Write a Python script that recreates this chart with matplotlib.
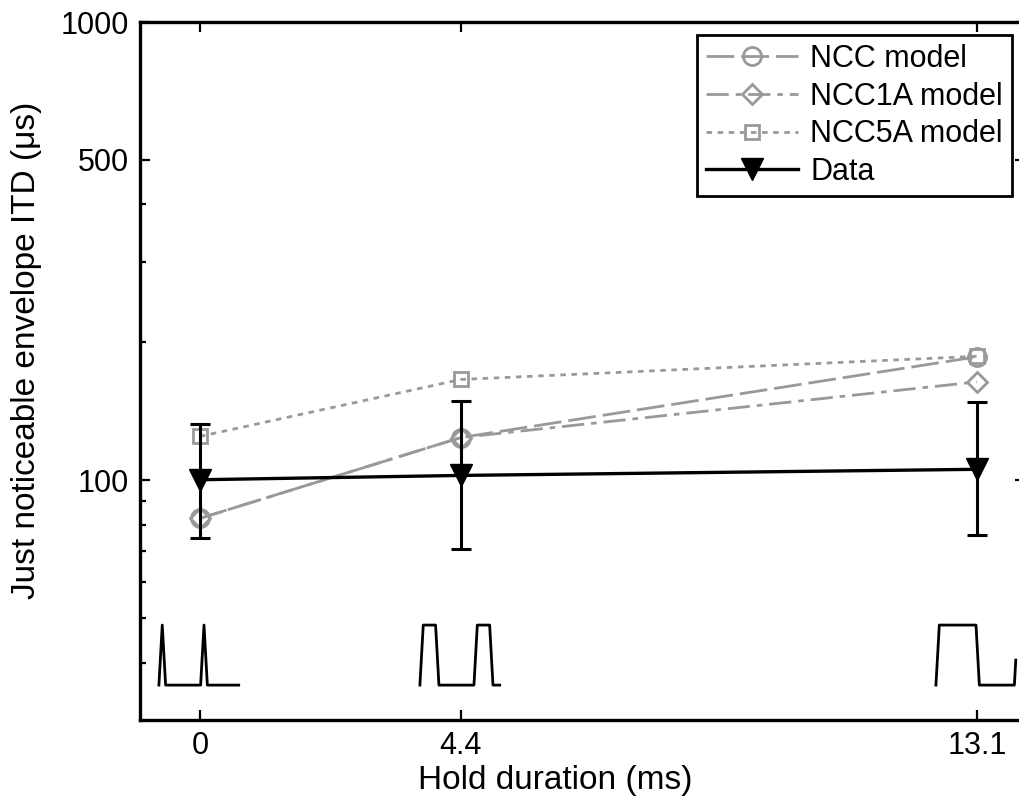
import numpy as np
import matplotlib

matplotlib.use("Agg")
import matplotlib.pyplot as plt
import matplotlib.transforms as mtransforms

# hold durations (ms)
hold = [0.0, 4.4, 13.1]

# model predictions (us)
ncc = [82.6, 124.0, 186.0]
ncc1a = [82.6, 124.0, 164.0]
ncc5a = [124.7, 166.0, 186.5]

# measured data (us) with error bar limits
data = [100.3, 102.5, 105.7]
data_hi = [132.4, 148.6, 148.0]
data_lo = [75.0, 71.0, 76.0]

# stimulus schematic parameters (ms of stimulus time)
ramp_ms = 1.2
gap_ms = 12.5
window_ms = 28.5

GREY = "#999999"
plt.rcParams["font.family"] = ["Liberation Sans", "DejaVu Sans"]
plt.rcParams["font.size"] = 22

fig = plt.figure(figsize=(10.19, 8), dpi=100)
ax = fig.add_axes([140 / 1019, 0.1, 885 / 1019, 0.8725])

ax.plot(hold, ncc, color=GREY, lw=2.0, dashes=(10, 2.5), marker="o", ms=13,
        mfc="none", mec=GREY, mew=2.0, label="NCC model")
ax.plot(hold, ncc1a, color=GREY, lw=2.0, dashes=(8, 2.5, 2, 2.5), marker="D", ms=10,
        mfc="none", mec=GREY, mew=2.0, label="NCC1A model")
ax.plot(hold, ncc5a, color=GREY, lw=2.0, dashes=(2, 2), marker="s", ms=10,
        mfc="none", mec=GREY, mew=2.0, label="NCC5A model")

yerr = [np.array(data) - np.array(data_lo), np.array(data_hi) - np.array(data)]
ax.errorbar(hold, data, yerr=yerr, fmt="none", ecolor="black", capsize=7,
            capthick=2.2, elinewidth=2.2, zorder=5)
ax.plot(hold, data, color="black", lw=2.4, marker="v", ms=16, mfc="black",
        mec="black", label="Data", zorder=6)

# stimulus envelope schematics below each condition
trans = mtransforms.blended_transform_factory(ax.transData, ax.transAxes)
px_per_ms = 59.3
scale = 2.8 / px_per_ms
lead = 41.0 / px_per_ms
y0, y1 = 0.05, 0.136
for h in hold:
    t = [0.0]
    lev = [0]
    while t[-1] < window_ms:
        for dt, lv in ((ramp_ms, 1), (h, 1), (ramp_ms, 0), (gap_ms, 0)):
            t.append(t[-1] + dt)
            lev.append(lv)
    t = np.array(t)
    lev = np.array(lev, dtype=float)
    keep = t <= window_ms
    tt = np.append(t[keep], window_ms)
    ll = np.append(lev[keep], np.interp(window_ms, t, lev))
    xs = h - lead + tt * scale
    ys = y0 + ll * (y1 - y0)
    ax.plot(xs, ys, color="black", lw=2.0, transform=trans, clip_on=False)

ax.set_yscale("log")
ax.set_ylim(30, 1000)
ax.set_xlim(-1.01, 13.91)
ax.set_yticks([100, 500, 1000])
ax.set_yticklabels(["100", "500", "1000"])
ax.set_yticks([40, 50, 60, 70, 80, 90, 200, 300, 400], minor=True)
ax.yaxis.set_minor_formatter(matplotlib.ticker.NullFormatter())
ax.set_xticks(hold)
ax.set_xticklabels(["0", "4.4", "13.1"])

ax.tick_params(which="both", direction="in", top=True, right=True, width=1.6)
ax.tick_params(which="major", length=7, pad=8)
ax.tick_params(which="minor", length=4)
for sp in ax.spines.values():
    sp.set_linewidth(2.4)

ax.set_xlabel("Hold duration (ms)", fontsize=24, labelpad=3)
ax.set_ylabel("Just noticeable envelope ITD (μs)", fontsize=24, labelpad=13)
ax.xaxis.label.set_x(0.469)
ax.yaxis.label.set_y(0.53)

leg = ax.legend(loc="upper right", bbox_to_anchor=(1012 / 1019, 1 - 35 / 800),
                bbox_transform=fig.transFigure, borderaxespad=0, fancybox=False,
                framealpha=1, edgecolor="black", handlelength=3.0,
                labelspacing=0.25, borderpad=0.3, handletextpad=0.4)
leg.get_frame().set_linewidth(2.0)

fig.savefig("out.png", dpi=100)
